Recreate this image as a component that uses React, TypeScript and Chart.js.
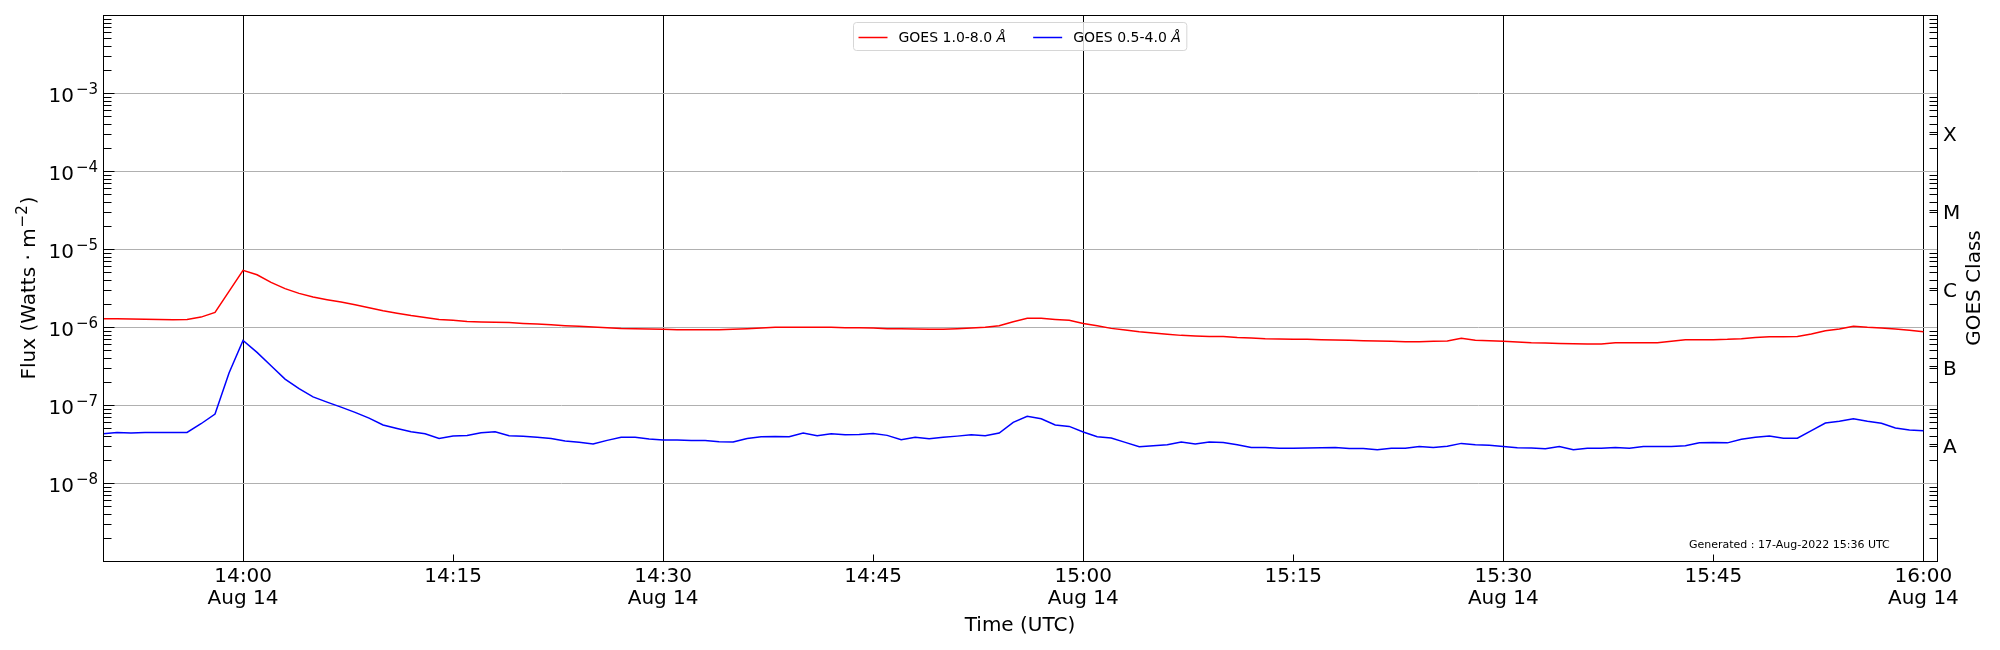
import React, { useEffect, useRef } from "react";
import { Chart, registerables } from "chart.js";

Chart.register(...registerables);

// ---------------- data ----------------
const TIMES = [
  "13:50", "13:51", "13:52", "13:53", "13:54", "13:55", "13:56", "13:57", "13:58", "13:59",
  "14:00", "14:01", "14:02", "14:03", "14:04", "14:05", "14:06", "14:07", "14:08", "14:09",
  "14:10", "14:11", "14:12", "14:13", "14:14", "14:15", "14:16", "14:17", "14:18", "14:19",
  "14:20", "14:21", "14:22", "14:23", "14:24", "14:25", "14:26", "14:27", "14:28", "14:29",
  "14:30", "14:31", "14:32", "14:33", "14:34", "14:35", "14:36", "14:37", "14:38", "14:39",
  "14:40", "14:41", "14:42", "14:43", "14:44", "14:45", "14:46", "14:47", "14:48", "14:49",
  "14:50", "14:51", "14:52", "14:53", "14:54", "14:55", "14:56", "14:57", "14:58", "14:59",
  "15:00", "15:01", "15:02", "15:03", "15:04", "15:05", "15:06", "15:07", "15:08", "15:09",
  "15:10", "15:11", "15:12", "15:13", "15:14", "15:15", "15:16", "15:17", "15:18", "15:19",
  "15:20", "15:21", "15:22", "15:23", "15:24", "15:25", "15:26", "15:27", "15:28", "15:29",
  "15:30", "15:31", "15:32", "15:33", "15:34", "15:35", "15:36", "15:37", "15:38", "15:39",
  "15:40", "15:41", "15:42", "15:43", "15:44", "15:45", "15:46", "15:47", "15:48", "15:49",
  "15:50", "15:51", "15:52", "15:53", "15:54", "15:55", "15:56", "15:57", "15:58", "15:59",
  "16:00",
];

const FLUX_1_8 = [
  1.28e-6, 1.28e-6, 1.27e-6, 1.26e-6, 1.25e-6, 1.24e-6, 1.25e-6, 1.34e-6, 1.54e-6, 2.86e-6,
  5.32e-6, 4.68e-6, 3.73e-6, 3.1e-6, 2.7e-6, 2.42e-6, 2.24e-6, 2.09e-6, 1.93e-6, 1.77e-6,
  1.62e-6, 1.5e-6, 1.4e-6, 1.32e-6, 1.25e-6, 1.22e-6, 1.18e-6, 1.16e-6, 1.15e-6, 1.14e-6,
  1.11e-6, 1.09e-6, 1.07e-6, 1.04e-6, 1.02e-6, 1.0e-6, 9.8e-7, 9.6e-7, 9.5e-7, 9.42e-7,
  9.33e-7, 9.23e-7, 9.23e-7, 9.23e-7, 9.23e-7, 9.33e-7, 9.5e-7, 9.7e-7, 9.9e-7, 9.9e-7,
  9.9e-7, 9.9e-7, 9.9e-7, 9.8e-7, 9.8e-7, 9.7e-7, 9.5e-7, 9.5e-7, 9.42e-7, 9.33e-7,
  9.33e-7, 9.5e-7, 9.7e-7, 9.9e-7, 1.04e-6, 1.17e-6, 1.29e-6, 1.29e-6, 1.25e-6, 1.22e-6,
  1.11e-6, 1.04e-6, 9.6e-7, 9.14e-7, 8.7e-7, 8.37e-7, 8.05e-7, 7.81e-7, 7.66e-7, 7.58e-7,
  7.58e-7, 7.36e-7, 7.22e-7, 7.08e-7, 7.02e-7, 6.94e-7, 6.94e-7, 6.88e-7, 6.81e-7, 6.75e-7,
  6.68e-7, 6.6e-7, 6.55e-7, 6.48e-7, 6.48e-7, 6.55e-7, 6.6e-7, 7.15e-7, 6.75e-7, 6.68e-7,
  6.55e-7, 6.41e-7, 6.28e-7, 6.22e-7, 6.16e-7, 6.1e-7, 6.04e-7, 6.04e-7, 6.28e-7, 6.28e-7,
  6.28e-7, 6.28e-7, 6.55e-7, 6.88e-7, 6.88e-7, 6.88e-7, 6.94e-7, 7.08e-7, 7.36e-7, 7.51e-7,
  7.51e-7, 7.58e-7, 8.13e-7, 8.97e-7, 9.42e-7, 1.02e-6, 9.9e-7, 9.7e-7, 9.42e-7, 9.06e-7,
  8.7e-7,
];

const FLUX_05_4 = [
  4.28e-8, 4.45e-8, 4.38e-8, 4.45e-8, 4.45e-8, 4.45e-8, 4.45e-8, 5.75e-8, 7.65e-8, 2.57e-7,
  6.73e-7, 4.73e-7, 3.19e-7, 2.15e-7, 1.62e-7, 1.27e-7, 1.09e-7, 9.4e-8, 8.05e-8, 6.8e-8,
  5.54e-8, 5.0e-8, 4.55e-8, 4.28e-8, 3.73e-8, 4.0e-8, 4.07e-8, 4.41e-8, 4.55e-8, 4.03e-8,
  3.98e-8, 3.85e-8, 3.71e-8, 3.45e-8, 3.32e-8, 3.16e-8, 3.52e-8, 3.85e-8, 3.85e-8, 3.66e-8,
  3.55e-8, 3.55e-8, 3.5e-8, 3.5e-8, 3.39e-8, 3.36e-8, 3.73e-8, 3.92e-8, 3.95e-8, 3.92e-8,
  4.37e-8, 4.04e-8, 4.28e-8, 4.17e-8, 4.2e-8, 4.32e-8, 4.08e-8, 3.59e-8, 3.85e-8, 3.7e-8,
  3.85e-8, 3.99e-8, 4.17e-8, 4.04e-8, 4.37e-8, 6.0e-8, 7.15e-8, 6.67e-8, 5.54e-8, 5.32e-8,
  4.5e-8, 3.93e-8, 3.78e-8, 3.32e-8, 2.92e-8, 3.0e-8, 3.1e-8, 3.35e-8, 3.16e-8, 3.35e-8,
  3.3e-8, 3.1e-8, 2.86e-8, 2.86e-8, 2.78e-8, 2.78e-8, 2.8e-8, 2.84e-8, 2.86e-8, 2.76e-8,
  2.76e-8, 2.67e-8, 2.78e-8, 2.78e-8, 2.94e-8, 2.86e-8, 2.96e-8, 3.22e-8, 3.1e-8, 3.04e-8,
  2.94e-8, 2.83e-8, 2.8e-8, 2.75e-8, 2.94e-8, 2.67e-8, 2.78e-8, 2.78e-8, 2.86e-8, 2.78e-8,
  2.94e-8, 2.94e-8, 2.94e-8, 3.0e-8, 3.27e-8, 3.3e-8, 3.27e-8, 3.63e-8, 3.85e-8, 4.0e-8,
  3.75e-8, 3.75e-8, 4.69e-8, 5.87e-8, 6.17e-8, 6.67e-8, 6.2e-8, 5.82e-8, 5.07e-8, 4.78e-8,
  4.69e-8,
];

const SERIES_LABELS = ["GOES 1.0-8.0 Å", "GOES 0.5-4.0 Å"];
const SERIES_COLORS = ["#ff0000", "#0000ff"];

const Y_TICK_VALUES = [1e-8, 1e-7, 1e-6, 1e-5, 1e-4, 1e-3];
const Y_TICK_EXPONENTS = ["−8", "−7", "−6", "−5", "−4", "−3"];
const Y_MIN = 1e-9;
const Y_MAX = 1e-2;

const X_TICK_TIMES = ["14:00", "14:15", "14:30", "14:45", "15:00", "15:15", "15:30", "15:45", "16:00"];
const X_TICK_DATES = ["Aug 14", "", "Aug 14", "", "Aug 14", "", "Aug 14", "", "Aug 14"];
const X_LINE_TIMES = ["14:00", "14:30", "15:00", "15:30", "16:00"];
const X_START = "13:50";
const X_END = "16:00";
const X_END_EXTRA_MIN = 0.97;

const GOES_CLASSES = ["A", "B", "C", "M", "X"];
const GOES_CLASS_FLUX = [3.16e-8, 3.16e-7, 3.16e-6, 3.16e-5, 3.16e-4];

const Y_TITLE_MAIN = "Flux (Watts · m";
const Y_TITLE_SUP = "−2";
const Y_TITLE_END = ")";
const X_TITLE = "Time (UTC)";
const RIGHT_TITLE = "GOES Class";
const GENERATED_TEXT = "Generated : 17-Aug-2022 15:36 UTC";

// ---------------- helpers ----------------
const FONT = '"DejaVu Sans", sans-serif';
const toMin = (t: string) => {
  const [h, m] = t.split(":").map(Number);
  return h * 60 + m;
};

const minorTickValues = () => {
  const out: number[] = [];
  for (let e = -9; e <= -3; e++) {
    for (let k = 2; k <= 9; k++) out.push(k * Math.pow(10, e));
  }
  return out;
};

const overlayPlugin = {
  id: "goesOverlay",
  afterDraw(chart: any) {
    const { ctx, chartArea: a, scales } = chart;
    const x = scales.x;
    const y = scales.y;
    const L = Math.round(a.left) + 0.5;
    const R = Math.round(a.right) + 0.5;
    const T = Math.round(a.top) + 0.5;
    const B = Math.round(a.bottom) + 0.5;
    ctx.save();

    // frame
    ctx.strokeStyle = "#000";
    ctx.lineWidth = 1;
    ctx.strokeRect(L, T, R - L, B - T);

    // y ticks (inward) left and right
    ctx.beginPath();
    minorTickValues().forEach((v) => {
      const py = Math.round(y.getPixelForValue(v)) + 0.5;
      ctx.moveTo(L, py);
      ctx.lineTo(L + 8, py);
      ctx.moveTo(R, py);
      ctx.lineTo(R - 8, py);
    });
    Y_TICK_VALUES.forEach((v) => {
      const py = Math.round(y.getPixelForValue(v)) + 0.5;
      ctx.moveTo(L, py);
      ctx.lineTo(L + 11, py);
    });
    GOES_CLASS_FLUX.forEach((v) => {
      const py = Math.round(y.getPixelForValue(v)) + 0.5;
      ctx.moveTo(R, py);
      ctx.lineTo(R - 8, py);
    });
    // x ticks (inward)
    X_TICK_TIMES.forEach((t) => {
      const px = Math.round(x.getPixelForValue(toMin(t))) + 0.5;
      ctx.moveTo(px, B);
      ctx.lineTo(px, B - 7);
    });
    ctx.stroke();

    ctx.fillStyle = "#000";
    ctx.textAlign = "left";
    ctx.textBaseline = "alphabetic";

    // y tick labels 10^n
    Y_TICK_VALUES.forEach((v, i) => {
      const py = y.getPixelForValue(v);
      ctx.font = `20px ${FONT}`;
      const w1 = ctx.measureText("10").width;
      ctx.font = `15px ${FONT}`;
      const w2 = ctx.measureText(Y_TICK_EXPONENTS[i]).width;
      const x0 = a.left - 5 - w1 - w2 - 2;
      ctx.font = `20px ${FONT}`;
      ctx.fillText("10", x0, py + 9);
      ctx.font = `15px ${FONT}`;
      ctx.fillText(Y_TICK_EXPONENTS[i], x0 + w1 + 2, py + 1);
    });

    // x tick labels
    ctx.font = `20px ${FONT}`;
    ctx.textAlign = "center";
    X_TICK_TIMES.forEach((t, i) => {
      const px = x.getPixelForValue(toMin(t));
      ctx.fillText(t, px, a.bottom + 21);
      if (X_TICK_DATES[i]) ctx.fillText(X_TICK_DATES[i], px, a.bottom + 43);
    });

    // GOES class labels (right)
    ctx.textAlign = "left";
    GOES_CLASSES.forEach((c, i) => {
      const py = y.getPixelForValue(GOES_CLASS_FLUX[i]);
      ctx.fillText(c, a.right + 6, py + 9);
    });

    // x title
    ctx.textAlign = "center";
    ctx.fillText(X_TITLE, (a.left + a.right) / 2, 631);

    // y title (rotated, with superscript)
    const cy = (a.top + a.bottom) / 2;
    ctx.save();
    ctx.translate(28, cy);
    ctx.rotate(-Math.PI / 2);
    ctx.textAlign = "left";
    ctx.font = `20px ${FONT}`;
    const wm = ctx.measureText(Y_TITLE_MAIN).width;
    const we = ctx.measureText(Y_TITLE_END).width;
    ctx.font = `15px ${FONT}`;
    const ws = ctx.measureText(Y_TITLE_SUP).width;
    const total = wm + ws + we + 2;
    let sx = -total / 2;
    ctx.font = `20px ${FONT}`;
    ctx.fillText(Y_TITLE_MAIN, sx, 7);
    sx += wm + 1;
    ctx.font = `15px ${FONT}`;
    ctx.fillText(Y_TITLE_SUP, sx, -1);
    sx += ws + 1;
    ctx.font = `20px ${FONT}`;
    ctx.fillText(Y_TITLE_END, sx, 7);
    ctx.restore();

    // right title
    ctx.save();
    ctx.translate(1973, cy);
    ctx.rotate(-Math.PI / 2);
    ctx.textAlign = "center";
    ctx.font = `20px ${FONT}`;
    ctx.fillText(RIGHT_TITLE, 0, 7);
    ctx.restore();

    // generated text
    ctx.textAlign = "left";
    ctx.font = `11px ${FONT}`;
    ctx.fillText(GENERATED_TEXT, 1689, 548);

    // legend
    const datasets = chart.data.datasets;
    const parts = datasets.map((d: any) => {
      const lab: string = d.label;
      return { main: lab.slice(0, -1), ital: lab.slice(-1), color: d.borderColor };
    });
    const widths = parts.map((p: any) => {
      ctx.font = `14px ${FONT}`;
      const w1 = ctx.measureText(p.main).width;
      ctx.font = `italic 14px ${FONT}`;
      const w2 = ctx.measureText(p.ital).width;
      return [w1, w2];
    });
    const lineLen = 29;
    const padL = 5;
    const padR = 6;
    const gapLT = 11;
    const gapCol = 27;
    let lw = padL + padR;
    widths.forEach((w: number[], i: number) => {
      lw += lineLen + gapLT + w[0] + w[1];
      if (i > 0) lw += gapCol;
    });
    const lx = Math.round((a.left + a.right) / 2 - lw / 2) + 0.5;
    const ly = 22.5;
    const lh = 28;
    const r = 3;
    ctx.beginPath();
    ctx.moveTo(lx + r, ly);
    ctx.lineTo(lx + lw - r, ly);
    ctx.arcTo(lx + lw, ly, lx + lw, ly + r, r);
    ctx.lineTo(lx + lw, ly + lh - r);
    ctx.arcTo(lx + lw, ly + lh, lx + lw - r, ly + lh, r);
    ctx.lineTo(lx + r, ly + lh);
    ctx.arcTo(lx, ly + lh, lx, ly + lh - r, r);
    ctx.lineTo(lx, ly + r);
    ctx.arcTo(lx, ly, lx + r, ly, r);
    ctx.closePath();
    ctx.fillStyle = "rgba(255,255,255,0.8)";
    ctx.fill();
    ctx.strokeStyle = "#d6d6d6";
    ctx.lineWidth = 1;
    ctx.stroke();

    let cx = lx + padL;
    const lineY = 37.5;
    parts.forEach((p: any, i: number) => {
      if (i > 0) cx += gapCol;
      ctx.strokeStyle = p.color;
      ctx.lineWidth = 1.5;
      ctx.beginPath();
      ctx.moveTo(cx, lineY);
      ctx.lineTo(cx + lineLen, lineY);
      ctx.stroke();
      cx += lineLen + gapLT;
      ctx.fillStyle = "#000";
      ctx.font = `14px ${FONT}`;
      ctx.fillText(p.main, cx, 42);
      cx += widths[i][0];
      ctx.font = `italic 14px ${FONT}`;
      ctx.fillText(p.ital, cx, 42);
      cx += widths[i][1];
    });

    ctx.restore();
  },
};

export default function App() {
  const ref = useRef<HTMLCanvasElement>(null);

  useEffect(() => {
    if (!ref.current) return;
    const series = [FLUX_1_8, FLUX_05_4];
    const chart = new Chart(ref.current, {
      type: "line",
      data: {
        datasets: series.map((vals, i) => ({
          label: SERIES_LABELS[i],
          data: TIMES.map((t, j) => ({ x: toMin(t), y: vals[j] })),
          borderColor: SERIES_COLORS[i],
          backgroundColor: SERIES_COLORS[i],
          borderWidth: 1.5,
          pointRadius: 0,
          tension: 0,
          fill: false,
        })),
      },
      options: {
        responsive: false,
        maintainAspectRatio: false,
        animation: false,
        layout: { padding: { left: 103, right: 63, top: 15, bottom: 89 } },
        plugins: {
          legend: { display: false },
          tooltip: { enabled: false },
        },
        events: [],
        scales: {
          x: {
            type: "linear",
            min: toMin(X_START),
            max: toMin(X_END) + X_END_EXTRA_MIN,
            ticks: { display: false },
            grid: { color: "#000000", lineWidth: 1, drawTicks: false },
            border: { display: false },
            afterBuildTicks: (s: any) => {
              s.ticks = X_LINE_TIMES.map((t) => ({ value: toMin(t) }));
            },
            afterFit: (s: any) => {
              s.height = 0;
            },
          },
          y: {
            type: "logarithmic",
            position: "left",
            min: Y_MIN,
            max: Y_MAX,
            ticks: { display: false },
            grid: { color: "#b0b0b0", lineWidth: 1, drawTicks: false },
            border: { display: false },
            afterBuildTicks: (s: any) => {
              s.ticks = Y_TICK_VALUES.map((v) => ({ value: v }));
            },
            afterFit: (s: any) => {
              s.width = 0;
            },
          },
        },
      } as any,
      plugins: [overlayPlugin],
    });
    return () => chart.destroy();
  }, []);

  return (
    <div style={{ position: "absolute", left: 0, top: 0, width: 2000, height: 650, background: "#fff" }}>
      <canvas ref={ref} width={2000} height={650} style={{ display: "block", width: 2000, height: 650 }} />
    </div>
  );
}
